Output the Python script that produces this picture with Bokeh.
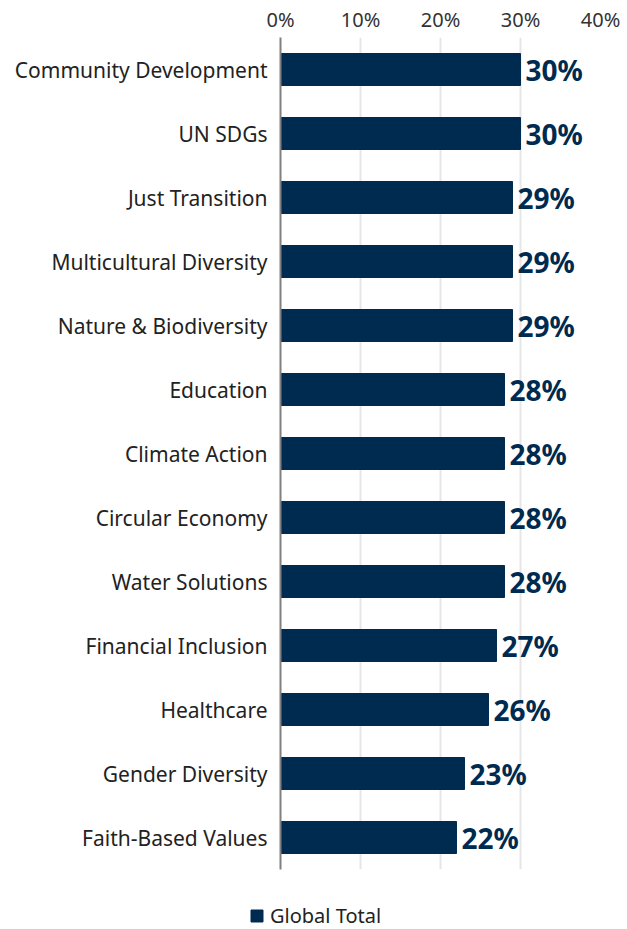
from bokeh.plotting import figure
from bokeh.layouts import column
from bokeh.models import ColumnDataSource, Legend, LegendItem, NumeralTickFormatter, FixedTicker, Range1d, FactorRange
from bokeh.core.properties import value
from bokeh.embed import file_html
from bokeh.resources import INLINE

categories = ["Community Development", "UN SDGs", "Just Transition", "Multicultural Diversity",
              "Nature & Biodiversity", "Education", "Climate Action", "Circular Economy",
              "Water Solutions", "Financial Inclusion", "Healthcare", "Gender Diversity",
              "Faith-Based Values"]
values = [30, 30, 29, 29, 29, 28, 28, 28, 28, 27, 26, 23, 22]
tick_values = [0, 10, 20, 30, 40]
series_name = "Global Total"

NAVY = "#002b50"
FONT = "Noto Sans"

src = ColumnDataSource(dict(cat=categories, val=[v / 100 for v in values],
                            lab=[f"{v}%" for v in values]))

p = figure(width=627, height=893, output_backend="svg", toolbar_location=None,
           y_range=FactorRange(*reversed(categories)), x_range=Range1d(0, 0.40),
           x_axis_location="above", min_border_left=280, min_border_right=27,
           min_border_top=37, min_border_bottom=24)
p.frame_width = 320
p.frame_height = 832
p.outline_line_color = None

r = p.hbar(y="cat", right="val", left=0, height=0.5, color=NAVY, source=src)
p.text(x="val", y="cat", text="lab", source=src, x_offset=5, text_baseline="middle",
       text_align="left", text_font=value(FONT), text_font_style="bold",
       text_font_size="28px", text_color=NAVY)

xa = p.xaxis[0]
xa.ticker = FixedTicker(ticks=[t / 100 for t in tick_values])
xa.formatter = NumeralTickFormatter(format="0%")
xa.axis_line_color = None
xa.major_tick_line_color = None
xa.minor_tick_line_color = None
xa.major_tick_out = 0
xa.minor_tick_out = 0
xa.major_label_text_font = FONT
xa.major_label_text_font_size = "20px"
xa.major_label_text_color = "#333333"
xa.major_label_standoff = 5

ya = p.yaxis[0]
ya.axis_line_color = "#808080"
ya.axis_line_width = 2
ya.major_tick_line_color = None
ya.minor_tick_line_color = None
ya.major_tick_out = 0
ya.minor_tick_out = 0
ya.major_label_text_font = FONT
ya.major_label_text_font_size = "21px"
ya.major_label_text_color = "#222222"
ya.major_label_standoff = 13

p.xgrid.grid_line_color = "#e6e6e6"
p.xgrid.grid_line_width = 2
p.ygrid.grid_line_color = None

# legend strip below the chart
p2 = figure(width=627, height=36, output_backend="svg", toolbar_location=None,
            x_range=Range1d(0, 1), y_range=Range1d(0, 1),
            min_border_left=0, min_border_right=0, min_border_top=0, min_border_bottom=0)
p2.axis.visible = False
p2.grid.visible = False
p2.outline_line_color = None
try:
    p2.frame_align = False
    legend_x = 249
except AttributeError:
    legend_x = 0
# one zero-width, out-of-view key row so the legend can draw its swatch
legend_src = ColumnDataSource(dict(cat=[-10], val=[0]))
r2 = p2.hbar(y="cat", right="val", left=0, height=0.5, color=NAVY, source=legend_src)

legend = Legend(items=[LegendItem(label=series_name, renderers=[r2], index=0)],
                orientation="horizontal", location=(legend_x, 0),
                label_text_font=FONT, label_text_font_size="20px",
                label_text_color="#222222", glyph_width=15, glyph_height=15,
                border_line_color=None, background_fill_alpha=0,
                padding=0, margin=0, label_standoff=6)
p2.add_layout(legend, "center")

layout = column(p, p2, spacing=0)
open("out.html", "w").write(file_html(layout, INLINE))
